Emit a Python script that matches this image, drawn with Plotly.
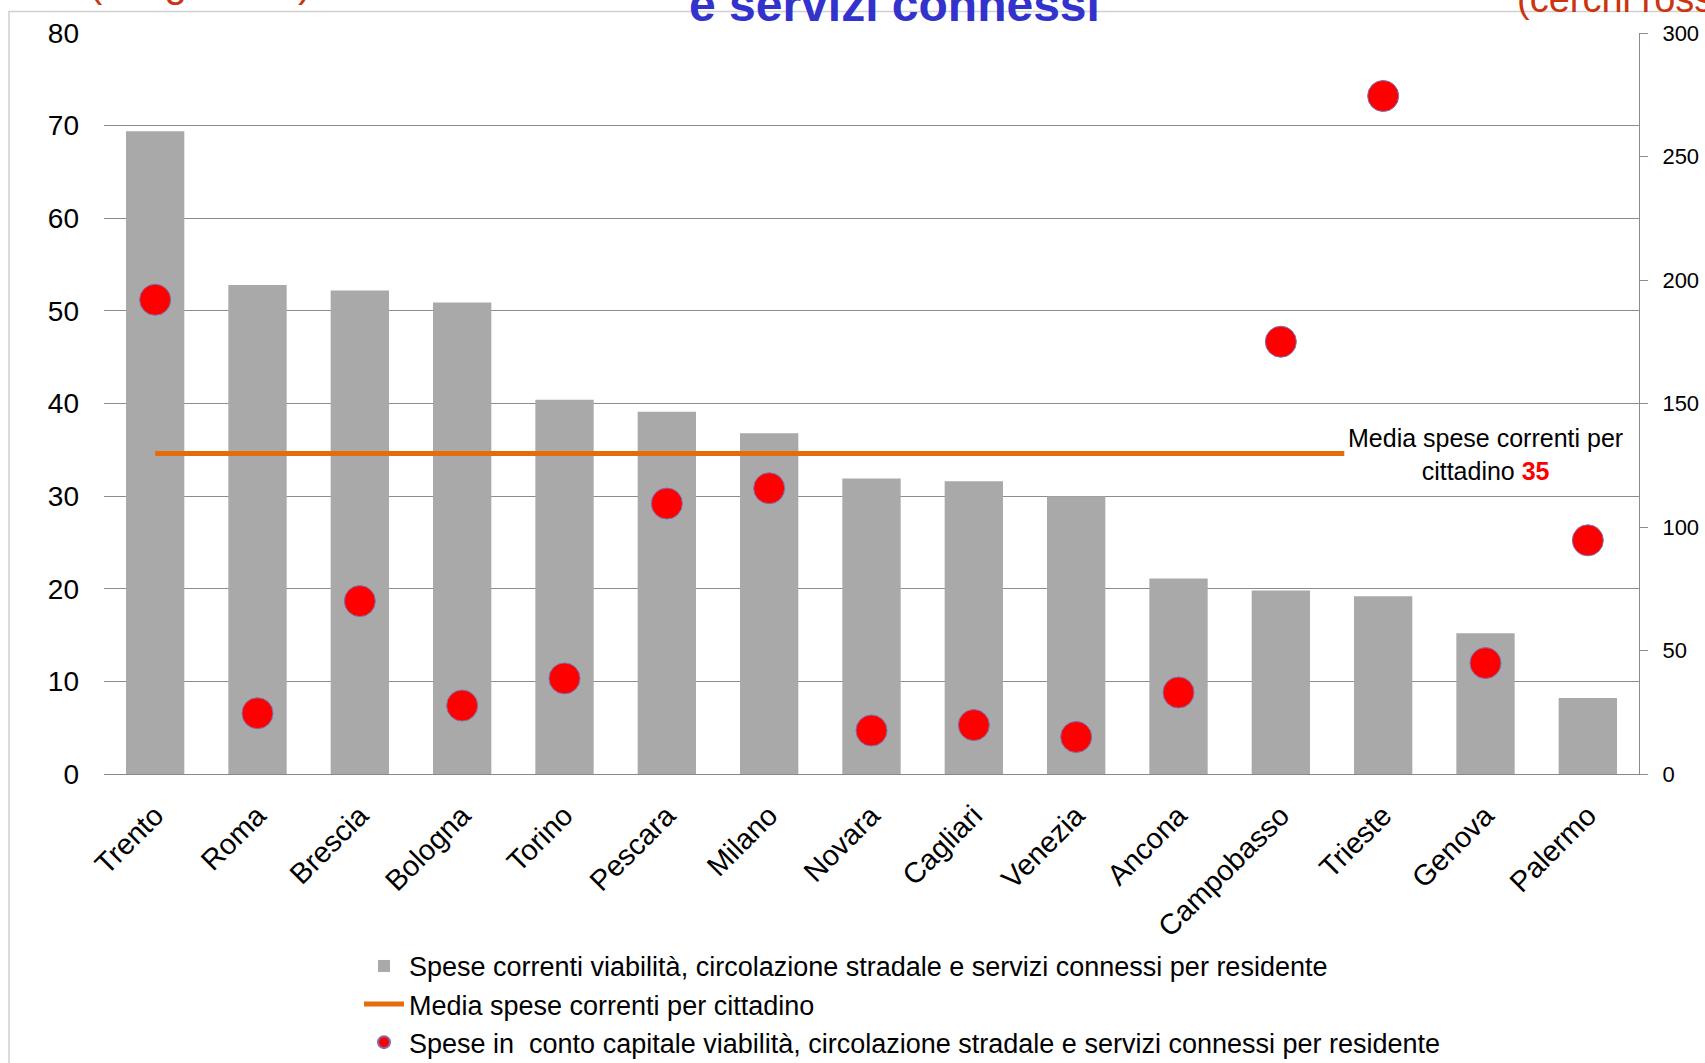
import plotly.graph_objects as go

# ---- data ----
citta = ["Trento", "Roma", "Brescia", "Bologna", "Torino", "Pescara", "Milano", "Novara",
         "Cagliari", "Venezia", "Ancona", "Campobasso", "Trieste", "Genova", "Palermo"]
spese_correnti = [69.4, 52.8, 52.2, 50.9, 40.4, 39.1, 36.8, 31.9, 31.6, 30.0, 21.1, 19.8, 19.2, 15.2, 8.2]
spese_capitale = [192, 24.6, 70, 27.7, 38.7, 109.5, 115.7, 17.6, 19.8, 15, 33, 175, 274.5, 44.9, 94.6]
media_valore = 34.6
media_etichetta = "35"
media_estensione = [0, 11.62]   # from first city to just past Campobasso (category index)
left_ticks = [0, 10, 20, 30, 40, 50, 60, 70, 80]
right_ticks = [0, 50, 100, 150, 200, 250, 300]

FONT = "Liberation Sans"
idx = list(range(len(citta)))

fig = go.Figure()
fig.add_trace(go.Bar(
    x=idx, y=spese_correnti, width=0.57,
    marker=dict(color="#A9A9A9", line=dict(width=0)),
    name="Spese correnti viabilità, circolazione stradale e servizi connessi per residente",
))
fig.add_trace(go.Scatter(
    x=media_estensione, y=[media_valore] * len(media_estensione), mode="lines",
    line=dict(color="#E46C0A", width=5),
    name="Media spese correnti per cittadino",
))
fig.add_trace(go.Scatter(
    x=idx, y=spese_capitale, mode="markers", yaxis="y2",
    marker=dict(color="#FF0000", size=31, line=dict(color="#7F6FB0", width=1)),
    name="Spese in  conto capitale viabilità, circolazione stradale e servizi connessi per residente",
))

fig.add_annotation(
    x=13, y=34.5, xref="x", yref="y",
    text="Media spese correnti per<br>cittadino <b><span style='color:#FF0000'>" + media_etichetta + "</span></b>",
    showarrow=False, font=dict(family=FONT, size=25, color="#000000"), align="center",
)

# partially visible slide texts at the very top (cut by the page edge, as in the original)
fig.add_annotation(x=0.5147, y=1, xref="paper", yref="paper", xanchor="center", yanchor="bottom",
                   yshift=0, text="<b>e servizi connessi</b>", showarrow=False,
                   font=dict(family=FONT, size=48, color="#3333CC"))
fig.add_annotation(x=-0.011, y=1, xref="paper", yref="paper", xanchor="left", yanchor="bottom",
                   yshift=26, text="(istogrammi)", showarrow=False,
                   font=dict(family=FONT, size=40, color="#CC3311"))
fig.add_annotation(x=(1515 - 104) / 1535, y=1, xref="paper", yref="paper", xanchor="left", yanchor="bottom",
                   yshift=11, text="(cerchi rossi)", showarrow=False,
                   font=dict(family=FONT, size=38, color="#CC3311"))

# slide border
fig.add_shape(type="rect", xref="paper", yref="paper",
              x0=(9 - 104) / 1535, x1=1.2, y0=-0.5, y1=(774 - 11) / 741.4,
              line=dict(color="#D0D0D0", width=1.5), fillcolor="rgba(0,0,0,0)", layer="below")

fig.update_layout(
    width=1705, height=1063,
    margin=dict(l=104, r=66, t=33, b=289, autoexpand=False),
    paper_bgcolor="white", plot_bgcolor="white",
    font=dict(family=FONT, color="#000000"),
    showlegend=True,
    legend=dict(x=(359 - 104) / 1535, xanchor="left", y=(774 - 942) / 741.4, yanchor="top",
                font=dict(family=FONT, size=27, color="#000000"), itemwidth=40,
                itemsizing="constant", bgcolor="rgba(0,0,0,0)", tracegroupgap=0),
    xaxis=dict(range=[-0.5, len(citta) - 0.5], tickmode="array", tickvals=idx, ticktext=citta,
               tickangle=-45, tickfont=dict(family=FONT, size=29, color="#000000"),
               showgrid=False, zeroline=False, showline=True, linecolor="#888888", linewidth=1,
               ticks="", ticklabelstandoff=12),
    yaxis=dict(range=[0, 80], tickmode="array", tickvals=left_ticks,
               tickfont=dict(family=FONT, size=28, color="#000000"),
               showgrid=True, gridcolor="#8C8C8C", gridwidth=1, zeroline=False,
               showline=False, ticks="", ticklabelstandoff=24),
    yaxis2=dict(range=[0, 300], tickmode="array", tickvals=right_ticks, overlaying="y", side="right",
                tickfont=dict(family=FONT, size=22, color="#000000"),
                showgrid=False, zeroline=False, showline=True, linecolor="#8C8C8C", linewidth=1,
                ticks="outside", ticklen=8, tickcolor="#8C8C8C", ticklabelstandoff=10),
)

fig.write_html("out.html", config={"displayModeBar": False},
               post_script="document.body.style.margin='0';document.body.style.overflow='hidden';")
